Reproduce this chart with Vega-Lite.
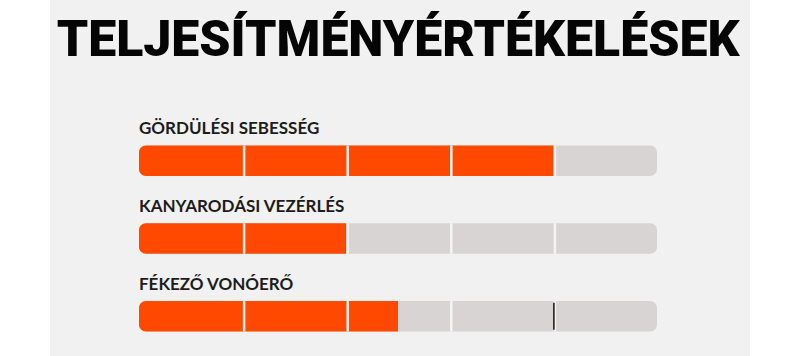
{
  "$schema": "https://vega.github.io/schema/vega-lite/v6.json",
  "width": 700,
  "height": 356,
  "autosize": {"type": "none"},
  "padding": {"left": 50, "right": 50, "top": 0, "bottom": 0},
  "background": "#ffffff",
  "config": {"view": {"stroke": null, "fill": "#f1f1f1"}},
  "datasets": {
    "ratings": [
      {"attr": "GÖRDÜLÉSI SEBESSÉG", "row": 0, "score": 4, "max": 5},
      {"attr": "KANYARODÁSI VEZÉRLÉS", "row": 1, "score": 2, "max": 5},
      {"attr": "FÉKEZŐ VONÓERŐ", "row": 2, "score": 2.5, "max": 5}
    ],
    "dividers": [
      {"row": 0, "pos": 1}, {"row": 0, "pos": 2}, {"row": 0, "pos": 3}, {"row": 0, "pos": 4},
      {"row": 1, "pos": 1}, {"row": 1, "pos": 2}, {"row": 1, "pos": 3}, {"row": 1, "pos": 4},
      {"row": 2, "pos": 1}, {"row": 2, "pos": 2}, {"row": 2, "pos": 3}, {"row": 2, "pos": 4}
    ],
    "cursor": [{"row": 2, "pos": 4}],
    "heading": [{"title": "TELJESÍTMÉNYÉRTÉKELÉSEK"}]
  },
  "layer": [
    {
      "data": {"name": "ratings"},
      "mark": {"type": "bar", "orient": "horizontal", "height": 30.5, "cornerRadius": 7, "color": "#d7d4d3"},
      "encoding": {
        "x": {"field": "max", "type": "quantitative", "scale": {"domain": [-0.85907, 5.89768], "nice": false, "zero": false}, "axis": null},
        "x2": {"datum": 0},
        "y": {"field": "row", "type": "quantitative", "scale": {"domain": [-2.00375, 2.44625], "reverse": true, "nice": false, "zero": false}, "axis": null}
      }
    },
    {
      "data": {"name": "ratings"},
      "mark": {"type": "bar", "orient": "horizontal", "height": 30.5, "cornerRadiusTopLeft": 7, "cornerRadiusBottomLeft": 7, "color": "#ff4800"},
      "encoding": {
        "x": {"field": "score", "type": "quantitative"},
        "x2": {"datum": 0},
        "y": {"field": "row", "type": "quantitative"}
      }
    },
    {
      "data": {"name": "dividers"},
      "mark": {"type": "tick", "orient": "vertical", "size": 30.5, "thickness": 2.5, "color": "#f4f4f4", "opacity": 1, "xOffset": 1.5},
      "encoding": {
        "x": {"field": "pos", "type": "quantitative"},
        "y": {"field": "row", "type": "quantitative"}
      }
    },
    {
      "data": {"name": "cursor"},
      "mark": {"type": "tick", "orient": "vertical", "size": 27, "thickness": 1.5, "color": "#111111", "opacity": 1, "xOffset": 0.5},
      "encoding": {
        "x": {"field": "pos", "type": "quantitative"},
        "y": {"field": "row", "type": "quantitative"}
      }
    },
    {
      "data": {"name": "ratings"},
      "mark": {"type": "text", "align": "left", "baseline": "alphabetic", "dy": -26.5, "font": "Lato", "fontWeight": "bold", "fontSize": 17, "color": "#1c1c1c"},
      "encoding": {
        "x": {"datum": 0, "type": "quantitative"},
        "y": {"field": "row", "type": "quantitative"},
        "text": {"field": "attr"}
      }
    },
    {
      "data": {"name": "heading"},
      "mark": {"type": "text", "align": "center", "baseline": "alphabetic", "font": "Roboto", "fontWeight": 900, "fontSize": 50, "color": "#050505"},
      "encoding": {
        "x": {"datum": 2.5, "type": "quantitative"},
        "y": {"datum": -1.35375, "type": "quantitative"},
        "text": {"field": "title"}
      }
    }
  ]
}
